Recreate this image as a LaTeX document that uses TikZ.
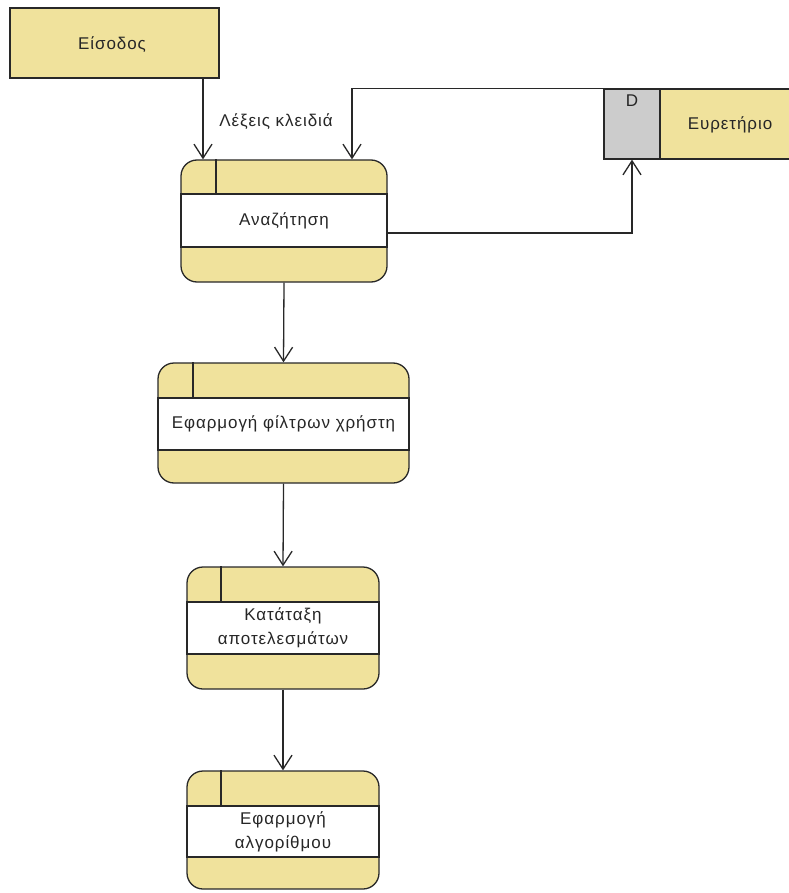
\documentclass[tikz,border=0pt]{standalone}
\usepackage{fontspec}
\setmainfont{Liberation Sans}[LetterSpace=5.5]
\usetikzlibrary{arrows.meta,calc}
\definecolor{procfill}{RGB}{240,226,156}
\definecolor{storegray}{RGB}{204,204,204}
\definecolor{edge}{RGB}{40,40,40}
\begin{document}
\begin{tikzpicture}[x=1pt,y=-1pt,
  line width=1.3pt,
  every node/.style={font=\fontsize{17}{24}\selectfont, text=black!85},
  entity/.style={draw=edge, fill=procfill, minimum width=209pt, minimum height=70pt, inner sep=0pt},
  procouter/.style={draw=edge, fill=procfill, rounded corners=16pt, inner sep=0pt},
  procband/.style={draw=edge, fill=white, inner sep=0pt, align=center},
  storeid/.style={draw=edge, fill=storegray, minimum width=56pt, minimum height=70pt, inner sep=0pt},
  storename/.style={draw=edge, fill=procfill, minimum width=160pt, minimum height=70pt, inner sep=0pt},
  flow/.style={draw=edge, -{Straight Barb[length=14pt,width=18pt,line width=1.3pt]}}
]
\useasboundingbox (0,0) rectangle (788,893);

% external entity
\node[entity] (ext) at (114.5,43) {};
\node (extlbl) at (112,45) {Είσοδος};

% data store
\node[storeid] (dsid) at (632,124) {};
\node[anchor=north] (dsD) at (632,91) {D};
\node[storename, anchor=west] (dsname) at (660,124) {};
\node (dslbl) at (730,125) {Ευρετήριο};

% processes: rounded outline, white name band, id tab
\node[procouter, minimum width=206pt, minimum height=122pt] (p1) at (284,221) {};
\node[procband, minimum width=206pt, minimum height=53pt] (b1) at (284,220.5) {Αναζήτηση};
\draw[edge] (216,0 |- p1.north) -- (216,0 |- b1.north);

\node[procouter, minimum width=251pt, minimum height=120pt] (p2) at (283.5,423) {};
\node[procband, minimum width=251pt, minimum height=52pt] (b2) at (283.5,424) {Εφαρμογή φίλτρων χρήστη};
\draw[edge] (193,0 |- p2.north) -- (193,0 |- b2.north);

\node[procouter, minimum width=192pt, minimum height=122pt] (p3) at (283,628) {};
\node[procband, minimum width=192pt, minimum height=52pt] (b3) at (283,628) {Κατάταξη\\αποτελεσμάτων};
\draw[edge] (221,0 |- p3.north) -- (221,0 |- b3.north);

\node[procouter, minimum width=192pt, minimum height=118pt] (p4) at (283,830) {};
\node[procband, minimum width=192pt, minimum height=51pt] (b4) at (283,831.5) {Εφαρμογή\\αλγορίθμου};
\draw[edge] (221,0 |- p4.north) -- (221,0 |- b4.north);

% data flows
\draw[flow] (203,0 |- ext.south) -- (203,0 |- p1.north);
\node (kw) at (276,122) {Λέξεις κλειδιά};
\draw[flow] (dsid.north west) -- (352,0 |- dsid.north) -- (352,0 |- p1.north);
\draw[flow] (p1.east |- 0,233) -- (dsid.center |- 0,233) -- (dsid.south);
\draw[flow] (p1.south) -- (p2.north);
\draw[flow] (p2.south) -- (p3.north);
\draw[flow] (p3.south) -- (p4.north);
\end{tikzpicture}
\end{document}
